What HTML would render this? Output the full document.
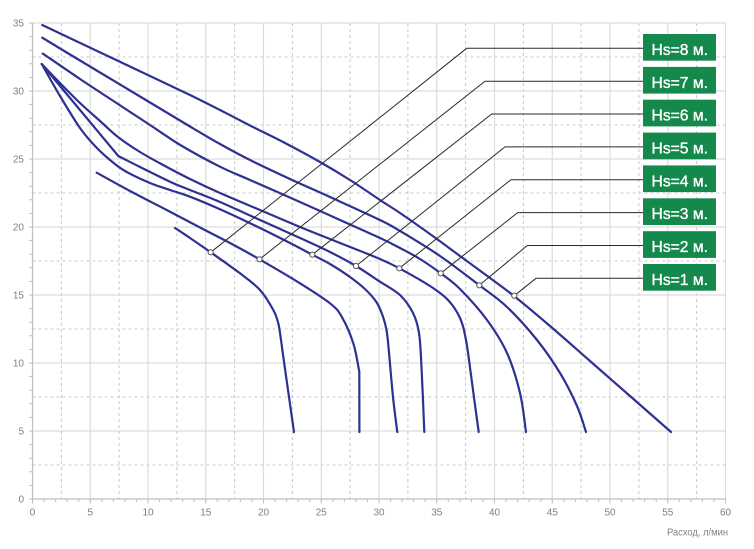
<!DOCTYPE html>
<html>
<head>
<meta charset="utf-8">
<style>
  html, body { margin: 0; padding: 0; background: #ffffff; }
  svg { display: block; }
  text { font-family: "Liberation Sans", "DejaVu Sans", sans-serif; }
</style>
</head>
<body>
<svg id="chart" width="754" height="549" viewBox="0 0 754 549" xmlns="http://www.w3.org/2000/svg">
  <rect x="0" y="0" width="754" height="549" fill="#ffffff"/>

  <!-- dashed minor grid -->
  <g stroke="#c9c9c9" stroke-width="1" stroke-dasharray="3 3" fill="none">
    <line x1="61.4" y1="23" x2="61.4" y2="499"/>
    <line x1="119.1" y1="23" x2="119.1" y2="499"/>
    <line x1="176.9" y1="23" x2="176.9" y2="499"/>
    <line x1="234.6" y1="23" x2="234.6" y2="499"/>
    <line x1="292.4" y1="23" x2="292.4" y2="499"/>
    <line x1="350.1" y1="23" x2="350.1" y2="499"/>
    <line x1="407.9" y1="23" x2="407.9" y2="499"/>
    <line x1="465.6" y1="23" x2="465.6" y2="499"/>
    <line x1="523.4" y1="23" x2="523.4" y2="499"/>
    <line x1="581.1" y1="23" x2="581.1" y2="499"/>
    <line x1="638.9" y1="23" x2="638.9" y2="499"/>
    <line x1="696.6" y1="23" x2="696.6" y2="499"/>
    <line x1="32.5" y1="465" x2="725.5" y2="465"/>
    <line x1="32.5" y1="397" x2="725.5" y2="397"/>
    <line x1="32.5" y1="329" x2="725.5" y2="329"/>
    <line x1="32.5" y1="261" x2="725.5" y2="261"/>
    <line x1="32.5" y1="193" x2="725.5" y2="193"/>
    <line x1="32.5" y1="125" x2="725.5" y2="125"/>
    <line x1="32.5" y1="57" x2="725.5" y2="57"/>
  </g>

  <!-- solid major grid -->
  <g stroke="#dcdcdc" stroke-width="1.2" fill="none">
    <line x1="90.25" y1="23" x2="90.25" y2="499"/>
    <line x1="148" y1="23" x2="148" y2="499"/>
    <line x1="205.75" y1="23" x2="205.75" y2="499"/>
    <line x1="263.5" y1="23" x2="263.5" y2="499"/>
    <line x1="321.25" y1="23" x2="321.25" y2="499"/>
    <line x1="379" y1="23" x2="379" y2="499"/>
    <line x1="436.75" y1="23" x2="436.75" y2="499"/>
    <line x1="494.5" y1="23" x2="494.5" y2="499"/>
    <line x1="552.25" y1="23" x2="552.25" y2="499"/>
    <line x1="610" y1="23" x2="610" y2="499"/>
    <line x1="667.75" y1="23" x2="667.75" y2="499"/>
    <line x1="725.5" y1="23" x2="725.5" y2="499"/>
    <line x1="32.5" y1="431" x2="725.5" y2="431"/>
    <line x1="32.5" y1="363" x2="725.5" y2="363"/>
    <line x1="32.5" y1="295" x2="725.5" y2="295"/>
    <line x1="32.5" y1="227" x2="725.5" y2="227"/>
    <line x1="32.5" y1="159" x2="725.5" y2="159"/>
    <line x1="32.5" y1="91" x2="725.5" y2="91"/>
    <line x1="32.5" y1="23" x2="725.5" y2="23"/>
  </g>

  <!-- axes -->
  <g stroke="#bfbfbf" fill="none">
    <line x1="32.5" y1="23" x2="32.5" y2="499.5" stroke-width="1.2"/>
    <line x1="32" y1="499" x2="726" y2="499" stroke-width="1.2"/>
    <line x1="32" y1="500.8" x2="726" y2="500.8" stroke-width="2.6" stroke-dasharray="1 10.55"/>
    <line x1="32" y1="501.5" x2="726" y2="501.5" stroke-width="4" stroke-dasharray="1 56.75"/>
    <line x1="30.5" y1="22.5" x2="30.5" y2="500" stroke-width="3" stroke-dasharray="1 12.6"/>
  </g>

  <!-- y labels -->
  <g font-size="10" fill="#808080" text-anchor="end">
    <text x="24" y="502.5">0</text>
    <text x="24" y="434.5">5</text>
    <text x="24" y="366.5">10</text>
    <text x="24" y="298.5">15</text>
    <text x="24" y="230.5">20</text>
    <text x="24" y="162.5">25</text>
    <text x="24" y="94.5">30</text>
    <text x="24" y="26.5">35</text>
  </g>

  <!-- x labels -->
  <g font-size="10" fill="#808080" text-anchor="middle">
    <text x="32.5" y="515.5">0</text>
    <text x="90.25" y="515.5">5</text>
    <text x="148" y="515.5">10</text>
    <text x="205.75" y="515.5">15</text>
    <text x="263.5" y="515.5">20</text>
    <text x="321.25" y="515.5">25</text>
    <text x="379" y="515.5">30</text>
    <text x="436.75" y="515.5">35</text>
    <text x="494.5" y="515.5">40</text>
    <text x="552.25" y="515.5">45</text>
    <text x="610" y="515.5">50</text>
    <text x="667.75" y="515.5">55</text>
    <text x="725.5" y="515.5">60</text>
  </g>
  <text x="728" y="535.5" font-size="10" fill="#808080" text-anchor="end" textLength="61" lengthAdjust="spacingAndGlyphs">Расход, л/мин</text>

  <!-- curves -->
  <g id="curves" stroke="#2e3192" stroke-width="2.2" fill="none" stroke-linejoin="round" stroke-linecap="round">
    <polyline points="42.3,25 95,50 150,76 190,95 220,110 250,125.5 285,143 320,162 350,180 380,200 400,213 430,234 460,256 490,278 514,296 550,326 590,361 630,396 671,432"/>
    <polyline points="42.3,37.7 61.7,49.5 100,72.5 150,102.5 190,126.5 220,144 250,160 290,179 330,197 380,220 400,231 440,256 479,285 507,307 537,340 560,373 577,406 586,432"/>
    <polyline points="42.7,53.5 80,79 118,104 150,125 182,146 220,166.7 250,180 300,202 340,220 380,238 400,248 420,259 440.7,273.3 460,289 487,320 507,353 520,393 526,432"/>
    <polyline points="41.7,64 60,83 80,103 100,121 118,137 140,152 165,166 190,179 220,193 260,210 300,227 340,243 380,259 399.3,268.3 430,286 448,300 460,318 466,340 471,375 475,405 478.7,432"/>
    <polyline points="41.7,64 118.3,156"/>
    <polyline points="118.3,156 140,167 170,181.7 190,190 220,202 260,220 300,238 330,252 356,266 380,281.7 400,295 413,313 419,333 421.5,367 424.3,432"/>
    <polyline points="41.7,64 60,96 80,128 95,146 110,160 125,171 150,183 170,190 190,196.7 220,209.3 260,228 290,243 312.3,254.7 330,264 350,277 366,290 377,303 383,316.7 386.5,330 388.5,347 393,397 397.3,432"/>
    <polyline points="96.7,172.7 130,191 166.7,210 200,227.5 230,243 259.5,259.3 300,283.3 330,303.3 341.7,316.7 353.3,343.3 359.3,371.7"/>
    <polyline points="359.3,371.7 359.4,432"/>
    <polyline points="175,228 190,238 210.7,252.3 240,273.3 260,290 273.3,310 278.3,323.3 281,340 283.3,356.7 288,390 294,432"/>
  </g>

  <!-- leader lines -->
  <g stroke="#2a2a2a" stroke-width="1" fill="none">
    <path d="M514.3,295.7 L536,278.3 H643"/>
    <path d="M479.3,285.3 L527.3,245.5 H643"/>
    <path d="M440.7,273.3 L517.7,212.6 H643"/>
    <path d="M399.3,268.3 L511,179.7 H643"/>
    <path d="M356,266 L505,146.9 H643"/>
    <path d="M312.3,254.7 L491.7,114 H643"/>
    <path d="M259.5,259.3 L485,81.2 H643"/>
    <path d="M210.7,252.3 L466.7,48.3 H643"/>
  </g>

  <!-- markers -->
  <g fill="#ffffff" stroke="#555555" stroke-width="1">
    <circle cx="514.3" cy="295.7" r="2.6"/>
    <circle cx="479.3" cy="285.3" r="2.6"/>
    <circle cx="440.7" cy="273.3" r="2.6"/>
    <circle cx="399.3" cy="268.3" r="2.6"/>
    <circle cx="356" cy="266" r="2.6"/>
    <circle cx="312.3" cy="254.7" r="2.6"/>
    <circle cx="259.5" cy="259.3" r="2.6"/>
    <circle cx="210.7" cy="252.3" r="2.6"/>
  </g>

  <!-- legend boxes -->
  <g fill="#15884c">
    <rect x="643" y="34" width="73" height="26.7"/>
    <rect x="643" y="66.9" width="73" height="26.7"/>
    <rect x="643" y="99.7" width="73" height="26.7"/>
    <rect x="643" y="132.6" width="73" height="26.7"/>
    <rect x="643" y="165.4" width="73" height="26.7"/>
    <rect x="643" y="198.3" width="73" height="26.7"/>
    <rect x="643" y="231.2" width="73" height="26.7"/>
    <rect x="643" y="264" width="73" height="26.7"/>
  </g>
  <g fill="#ffffff" stroke="#ffffff" stroke-width="0.35" font-size="15.5">
    <text x="651.5" y="54.9" textLength="56.5" lengthAdjust="spacingAndGlyphs">Hs=8 м.</text>
    <text x="651.5" y="87.8" textLength="56.5" lengthAdjust="spacingAndGlyphs">Hs=7 м.</text>
    <text x="651.5" y="120.6" textLength="56.5" lengthAdjust="spacingAndGlyphs">Hs=6 м.</text>
    <text x="651.5" y="153.5" textLength="56.5" lengthAdjust="spacingAndGlyphs">Hs=5 м.</text>
    <text x="651.5" y="186.3" textLength="56.5" lengthAdjust="spacingAndGlyphs">Hs=4 м.</text>
    <text x="651.5" y="219.2" textLength="56.5" lengthAdjust="spacingAndGlyphs">Hs=3 м.</text>
    <text x="651.5" y="252.1" textLength="56.5" lengthAdjust="spacingAndGlyphs">Hs=2 м.</text>
    <text x="651.5" y="284.9" textLength="56.5" lengthAdjust="spacingAndGlyphs">Hs=1 м.</text>
  </g>
</svg>
<script>
(function(){
  try {
    var NS = "http://www.w3.org/2000/svg";
    var g = document.getElementById("curves");
    var pls = g.getElementsByTagName("polyline");
    var list = [];
    for (var i = 0; i < pls.length; i++) list.push(pls[i]);
    list.forEach(function(pl){
      var raw = pl.getAttribute("points").trim().split(/\s+/).map(function(s){
        var a = s.split(","); return [parseFloat(a[0]), parseFloat(a[1])];
      });
      var n = raw.length;
      var d = "M" + raw[0][0] + "," + raw[0][1];
      for (var k = 0; k < n - 1; k++) {
        var p0 = raw[k > 0 ? k - 1 : k], p1 = raw[k], p2 = raw[k + 1], p3 = raw[k + 2 < n ? k + 2 : k + 1];
        var c1x = p1[0] + (p2[0] - p0[0]) / 6, c1y = p1[1] + (p2[1] - p0[1]) / 6;
        var c2x = p2[0] - (p3[0] - p1[0]) / 6, c2y = p2[1] - (p3[1] - p1[1]) / 6;
        d += " C" + c1x.toFixed(2) + "," + c1y.toFixed(2) + " " + c2x.toFixed(2) + "," + c2y.toFixed(2) + " " + p2[0] + "," + p2[1];
      }
      var path = document.createElementNS(NS, "path");
      path.setAttribute("d", d);
      g.replaceChild(path, pl);
    });
  } catch (e) {}
})();
</script>
</body>
</html>
